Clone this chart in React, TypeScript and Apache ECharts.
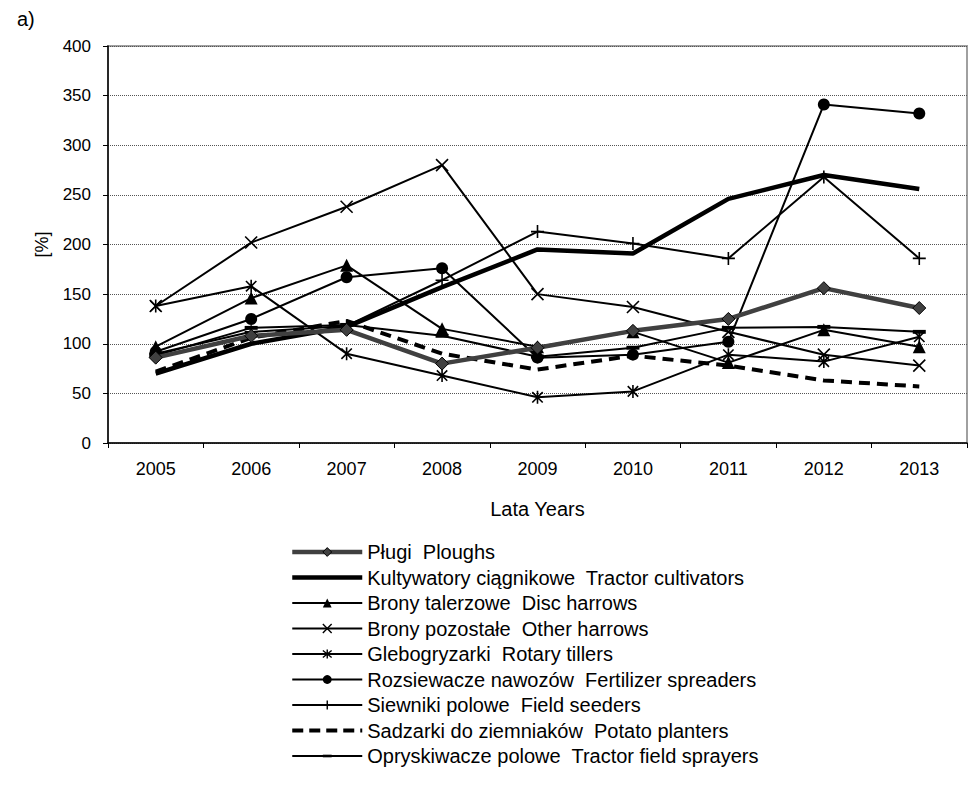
import React, { useEffect, useRef } from "react";
import * as echarts from "echarts";

const years = ["2005", "2006", "2007", "2008", "2009", "2010", "2011", "2012", "2013"];
const ploughs = [86, 108, 114, 80, 96, 113, 125, 156, 136];
const cultivators = [70, 100, 117, 157, 195, 191, 246, 270, 256];
const discHarrows = [97, 146, 179, 115, 97, 112, 81, 114, 97];
const otherHarrows = [138, 202, 238, 280, 150, 137, 112, 89, 78];
const rotaryTillers = [138, 158, 90, 68, 46, 52, 89, 82, 107];
const fertSpreaders = [92, 125, 167, 176, 86, 89, 102, 341, 332];
const fieldSeeders = [90, 112, 118, 164, 213, 201, 186, 268, 186];
const potatoPlanters = [72, 106, 123, 90, 74, 88, 78, 63, 57];
const sprayers = [88, 116, 119, 108, 87, 96, 116, 117, 112];

const names = [
  "Pługi  Ploughs",
  "Kultywatory ciągnikowe  Tractor cultivators",
  "Brony talerzowe  Disc harrows",
  "Brony pozostałe  Other harrows",
  "Glebogryzarki  Rotary tillers",
  "Rozsiewacze nawozów  Fertilizer spreaders",
  "Siewniki polowe  Field seeders",
  "Sadzarki do ziemniaków  Potato planters",
  "Opryskiwacze polowe  Tractor field sprayers",
];

const FONT = "'Liberation Sans', Arial, sans-serif";
const CROSS = "path://M0,0L10,10M10,0L0,10";
const STAR = "path://M1,1L9,9M9,1L1,9M5,0L5,10";
const PLUS = "path://M5,0L5,10M0,5L10,5";
const BAR = "path://M0,0L0,0M0,3.5L10,3.5L10,6.5L0,6.5ZM10,10L10,10";

export default function App() {
  const ref = useRef<HTMLDivElement>(null);
  useEffect(() => {
    if (!ref.current) return;
    const chart = echarts.init(ref.current, null, { renderer: "svg" });
    const thin = (name: string, data: number[], symbol: string, size: any, stroke: boolean) => ({
      name,
      type: "line",
      data,
      symbol,
      symbolSize: size,
      symbolKeepAspect: true,
      z: 3,
      lineStyle: { color: "#000", width: 2 },
      itemStyle: stroke
        ? { color: "#000", borderColor: "#000", borderWidth: 1.6 }
        : { color: "#000", borderColor: "#000", borderWidth: 0 },
    });
    const hidden = { color: "rgba(0,0,0,0)", borderColor: "rgba(0,0,0,0)", borderWidth: 0 };
    const legendData = [
      { name: names[0], lineStyle: { color: "#404040", width: 4.5 }, itemStyle: { color: "#404040", borderColor: "#000", borderWidth: 1 } },
      { name: names[1], lineStyle: { color: "#000", width: 4.5 }, itemStyle: hidden },
      { name: names[2], lineStyle: { color: "#000", width: 2 } },
      { name: names[3], lineStyle: { color: "#000", width: 2 }, itemStyle: { color: "#000", borderColor: "#000", borderWidth: 1.4 } },
      { name: names[4], lineStyle: { color: "#000", width: 2 }, itemStyle: { color: "#000", borderColor: "#000", borderWidth: 1.4 } },
      { name: names[5], lineStyle: { color: "#000", width: 2 } },
      { name: names[6], lineStyle: { color: "#000", width: 2 }, itemStyle: { color: "#000", borderColor: "#000", borderWidth: 1.4 } },
      { name: names[7], lineStyle: { color: "#000", width: 4, type: [11, 6] }, itemStyle: hidden },
      { name: names[8], lineStyle: { color: "#000", width: 2 } },
    ];
    const option: any = {
      animation: false,
      textStyle: { fontFamily: FONT },
      graphic: [
        { type: "text", left: 17, top: 9, style: { text: "a)", font: `20px ${FONT}`, fill: "#000" } },
      ],
      grid: {
        left: 108,
        right: 1,
        top: 46,
        bottom: 353,
        show: true,
        borderColor: "#a0a0a0",
        borderWidth: 2,
        containLabel: false,
      },
      legend: {
        orient: "vertical",
        left: 290,
        top: 542,
        padding: 0,
        itemWidth: 70,
        itemHeight: 11,
        itemGap: 5.5,
        textStyle: { fontSize: 20, color: "#000", fontFamily: FONT, lineHeight: 20 },
        data: legendData,
      },
      xAxis: {
        type: "category",
        data: years,
        boundaryGap: true,
        name: "Lata Years",
        nameLocation: "middle",
        nameGap: 56,
        nameTextStyle: { fontSize: 20, color: "#000", fontFamily: FONT },
        axisLine: { lineStyle: { color: "#000", width: 1.5 } },
        axisTick: { show: true, length: 5, lineStyle: { color: "#000" } },
        axisLabel: { fontSize: 18, color: "#000", margin: 17, fontFamily: FONT },
      },
      yAxis: {
        type: "value",
        min: 0,
        max: 400,
        interval: 50,
        name: "[%]",
        nameLocation: "middle",
        nameGap: 57,
        nameTextStyle: { fontSize: 18, color: "#000", fontFamily: FONT },
        axisLine: { show: true, lineStyle: { color: "#000", width: 1.5 } },
        axisTick: { show: true, length: 5, lineStyle: { color: "#000" } },
        axisLabel: { fontSize: 17, color: "#000", margin: 17, fontFamily: FONT },
        splitLine: { show: true, lineStyle: { color: "#555", type: "dotted", width: 1 } },
      },
      series: [
        {
          name: names[0],
          type: "line",
          data: ploughs,
          symbol: "diamond",
          symbolSize: 13,
          z: 5,
          lineStyle: { color: "#404040", width: 4.5 },
          itemStyle: { color: "#404040", borderColor: "#000", borderWidth: 1 },
        },
        {
          name: names[1],
          type: "line",
          data: cultivators,
          symbol: "none",
          z: 4,
          lineStyle: { color: "#000", width: 4.5 },
          itemStyle: { color: "#000" },
        },
        thin(names[2], discHarrows, "triangle", 13, false),
        thin(names[3], otherHarrows, CROSS, 12, true),
        thin(names[4], rotaryTillers, STAR, 13, true),
        thin(names[5], fertSpreaders, "circle", 12, false),
        thin(names[6], fieldSeeders, PLUS, 13, true),
        {
          name: names[7],
          type: "line",
          data: potatoPlanters,
          symbol: "none",
          z: 4,
          lineStyle: { color: "#000", width: 4, type: [11, 7] },
          itemStyle: { color: "#000" },
        },
        thin(names[8], sprayers, BAR, 13, false),
      ],
    };
    chart.setOption(option);
    return () => chart.dispose();
  }, []);
  return (
    <div
      ref={ref}
      style={{ position: "absolute", left: 0, top: 0, width: 968, height: 796, background: "#fff" }}
    />
  );
}
